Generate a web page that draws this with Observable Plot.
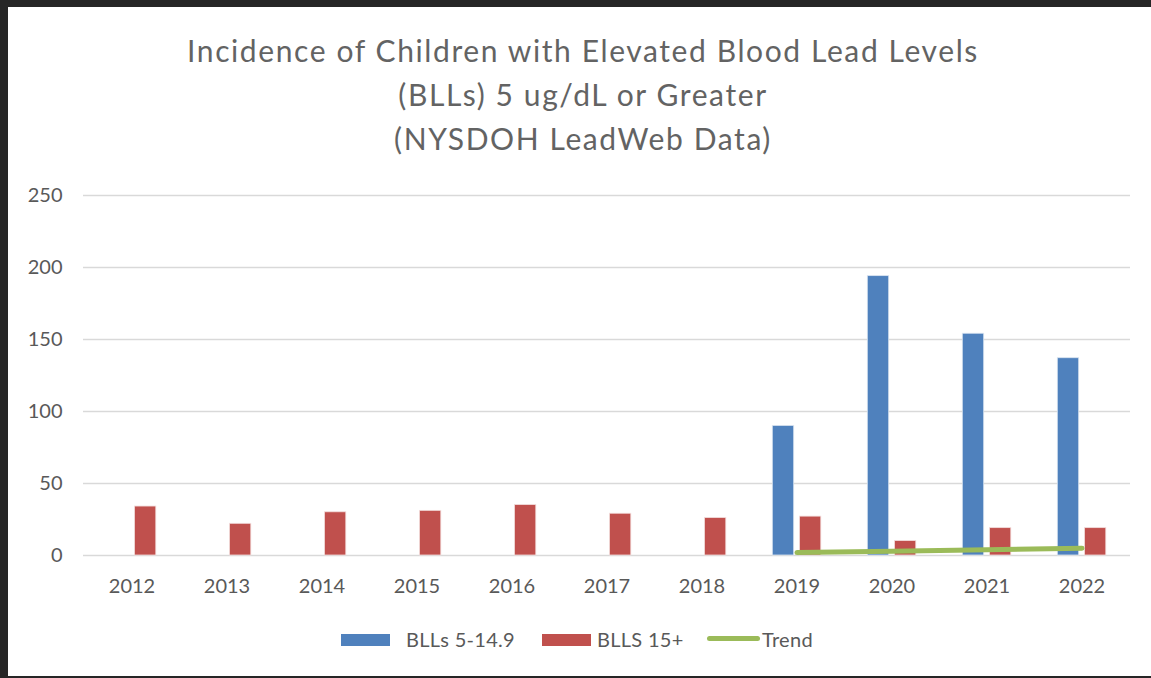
<!DOCTYPE html>
<html>
<head>
<meta charset="utf-8">
<script src="https://cdn.jsdelivr.net/npm/d3@7"></script>
<script src="https://cdn.jsdelivr.net/npm/@observablehq/plot@0.6"></script>
<style>
  html, body { margin: 0; padding: 0; background: #fff; }
  #frame { position: relative; width: 1151px; height: 678px; overflow: hidden; background: #fff; font-family: Lato, "Open Sans", sans-serif; }
  #bt { position: absolute; left: 0; top: 0; width: 1151px; height: 7px; background: #262626; }
  #bl { position: absolute; left: 0; top: 0; width: 8px; height: 678px; background: #262626; }
  #bb { position: absolute; left: 0; top: 676px; width: 1151px; height: 2px; background: #262626; }
  #title { position: absolute; left: 0; width: 1166px; top: 28px; text-align: center; font-size: 30px; letter-spacing: 1.6px; line-height: 44px; color: #636363; }
  #chart { position: absolute; left: 0; top: 175px; }
  #legend { position: absolute; left: 0; top: 627px; width: 1151px; height: 24px; font-size: 20px; color: #595959; letter-spacing: 0.3px; }
  .sw { position: absolute; top: 7px; height: 12px; }
  .lt { position: absolute; top: 0; line-height: 24px; white-space: nowrap; }
</style>
</head>
<body>
<div id="frame">
  <div id="title">Incidence of Children with Elevated Blood Lead Levels<br>(BLLs) 5 ug/dL or Greater<br>(NYSDOH LeadWeb Data)</div>
  <div id="chart"></div>
  <div id="legend"></div>
  <div id="bt"></div><div id="bl"></div><div id="bb"></div>
</div>
<script>
const years = ["2012","2013","2014","2015","2016","2017","2018","2019","2020","2021","2022"];
const blls5to149 = [null, null, null, null, null, null, null, 90, 194, 154, 137];
const blls15plus = [34, 22, 30, 31, 35, 29, 26, 27, 10, 19, 19];
const trendYears = ["2019","2020","2021","2022"];
const trendValues = [2, 3, 4, 5];
const yTicks = [0, 50, 100, 150, 200, 250];
const seriesNames = ["BLLs 5-14.9", "BLLS 15+", "Trend"];
const colors = ["#4F81BD", "#C0504D", "#9BBB59"];

const lowRows = years.map((y, i) => ({year: y, value: blls5to149[i]})).filter(d => d.value != null);
const highRows = years.map((y, i) => ({year: y, value: blls15plus[i]})).filter(d => d.value != null);
const trendRows = trendYears.map((y, i) => ({year: y, value: trendValues[i]}));

const chart = Plot.plot({
  width: 1151,
  height: 430,
  marginLeft: 83,
  marginRight: 21,
  marginTop: 20,
  marginBottom: 50,
  style: {fontFamily: "Lato, 'Open Sans', sans-serif", fontSize: "20px", color: "#595959", background: "transparent"},
  x: {domain: years, padding: 0, label: null, tickSize: 0, tickPadding: 23},
  y: {domain: [0, 250], ticks: yTicks, label: null, tickSize: 0, tickPadding: 21},
  marks: [
    Plot.ruleY(yTicks, {stroke: "#d9d9d9", strokeWidth: 1.6}),
    Plot.barY(lowRows, {x: "year", y: "value", fill: colors[0], stroke: "#dbe5f1", strokeWidth: 0.8, insetLeft: 23.3, insetRight: 50.3}),
    Plot.barY(highRows, {x: "year", y: "value", fill: colors[1], stroke: "#f2dcdb", strokeWidth: 0.8, insetLeft: 50.5, insetRight: 23.2}),
    Plot.line(trendRows, {x: "year", y: "value", stroke: colors[2], strokeWidth: 5, strokeLinecap: "round"})
  ]
});
document.getElementById("chart").appendChild(chart);

// legend
const legend = document.getElementById("legend");
const items = [
  {sw: 341, swW: 49, text: 406, kind: "bar"},
  {sw: 542, swW: 49, text: 597, kind: "bar"},
  {sw: 707, swW: 53, text: 762, kind: "line"}
];
items.forEach((it, i) => {
  const s = document.createElement("div");
  s.className = "sw";
  s.style.left = it.sw + "px";
  s.style.width = it.swW + "px";
  s.style.background = colors[i];
  if (it.kind === "line") { s.style.top = "9px"; s.style.height = "5px"; s.style.borderRadius = "3px"; }
  legend.appendChild(s);
  const t = document.createElement("div");
  t.className = "lt";
  t.style.left = it.text + "px";
  t.textContent = seriesNames[i];
  legend.appendChild(t);
});
</script>
</body>
</html>
